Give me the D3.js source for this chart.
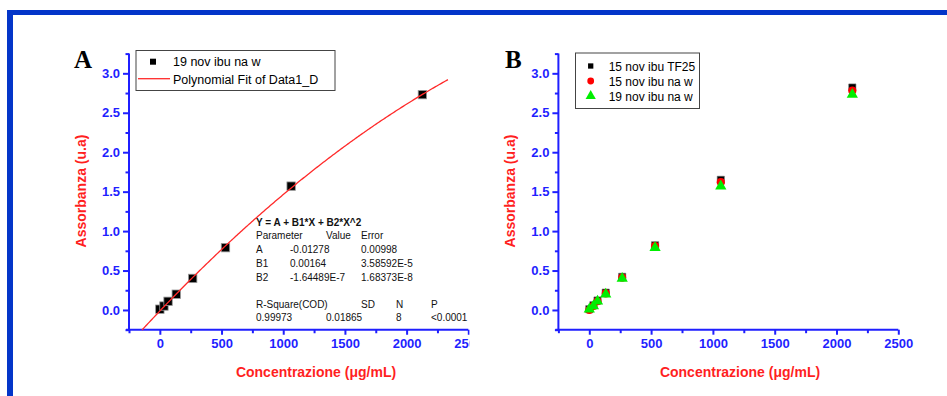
<!DOCTYPE html>
<html>
<head>
<meta charset="utf-8">
<script src="https://cdn.jsdelivr.net/npm/d3@7"></script>
<style>
  body { margin: 0; background: #fff; }
  svg { display: block; font-family: "Liberation Sans", Arial, sans-serif; }
</style>
</head>
<body>
<svg id="chart" width="947" height="396"></svg>
<script>
// Données
const conc = [0, 33.25, 66.5, 133, 266, 532, 1064, 2128];
const nov19_naw = [0.01, 0.05, 0.11, 0.20, 0.40, 0.79, 1.57, 2.73];
const nov15_tf25 = [0.01, 0.06, 0.12, 0.22, 0.42, 0.82, 1.65, 2.82];
const nov15_naw = [0.00, 0.05, 0.11, 0.21, 0.41, 0.81, 1.62, 2.78];

// Paramètres du fit polynomial (panneau A)
const fitParams = [-0.01278, 0.00164, -1.64489e-7];
const fitRange = [-145, 2340];

const xMajor = [0, 500, 1000, 1500, 2000, 2500];
const xMinor = [-250, 250, 750, 1250, 1750, 2250];
const yMajor = [0, 0.5, 1.0, 1.5, 2.0, 2.5, 3.0];
const yMinor = [-0.25, 0.25, 0.75, 1.25, 1.75, 2.25, 2.75, 3.25];

const statsRows = [
  ["Parameter", "", "Value", "Error"],
  ["A", "-0.01278", "", "0.00998"],
  ["B1", "0.00164", "", "3.58592E-5"],
  ["B2", "-1.64489E-7", "", "1.68373E-8"]
];
const statsHead = ["R-Square(COD)", "SD", "N", "P"];
const statsVals = ["0.99973", "0.01865", "8", "<0.0001"];

const legendB = ["15 nov ibu TF25", "15 nov ibu na w", "19 nov ibu na w"];

const svg = d3.select("#chart");
const blue = "#1f1fff";
const red = "#ff1f1f";

// Cadre bleu
svg.append("rect").attr("x", 7).attr("y", 10).attr("width", 940).attr("height", 5).attr("fill", "#0335c9");
svg.append("rect").attr("x", 7).attr("y", 10).attr("width", 6).attr("height", 386).attr("fill", "#0335c9");

const xDom = [-250, 2500];
const yDom = [-0.25, 3.25];

function drawAxes(g, x, y, clipRight) {
  const y0 = y(yDom[0]);
  const x0 = x(xDom[0]);

  // Axe Y : graduations mineures puis majeures
  g.append("g").attr("transform", `translate(${x0},0)`)
    .call(d3.axisLeft(y).tickValues(yMinor).tickSize(3.5).tickFormat(""))
    .call(a => a.select(".domain").remove());
  const ya = g.append("g").attr("transform", `translate(${x0},0)`)
    .call(d3.axisLeft(y).tickValues(yMajor).tickSize(6).tickPadding(3).tickFormat(d3.format(".1f")));
  ya.select(".domain").attr("d", `M0,${y(yDom[1])}V${y0 + 1}`);

  // Axe X
  const xg = g.append("g").attr("transform", `translate(0,${y0})`);
  if (clipRight) xg.attr("clip-path", "url(#clipA)");
  xg.call(d3.axisBottom(x).tickValues(xMinor).tickSize(3.5).tickFormat(""))
    .call(a => a.select(".domain").remove());
  const xa = xg.append("g")
    .call(d3.axisBottom(x).tickValues(xMajor).tickSize(5).tickPadding(4).tickFormat(d3.format("d")));
  xa.select(".domain").attr("d", `M${x0 - 3},0H${x(xDom[1])}`);

  g.selectAll(".domain, .tick line").attr("stroke", blue).attr("stroke-width", 2);
  g.selectAll(".tick text").attr("fill", blue).attr("font-weight", "bold")
    .attr("font-size", 13).attr("font-family", "Liberation Sans, Arial, sans-serif");
}

function axisLabels(g, cx, lx, ly) {
  g.append("text").attr("x", cx).attr("y", 377).attr("text-anchor", "middle")
    .attr("fill", red).attr("font-weight", "bold").attr("font-size", 14)
    .text("Concentrazione (\u03bcg/mL)");
  g.append("text").attr("transform", `translate(${lx},${ly}) rotate(-90)`)
    .attr("text-anchor", "middle").attr("fill", red).attr("font-weight", "bold").attr("font-size", 14)
    .text("Assorbanza (u.a)");
}

svg.append("defs").append("clipPath").attr("id", "clipA")
  .append("rect").attr("x", 100).attr("y", -10).attr("width", 369.5).attr("height", 40);

// ---------- Panneau A ----------
const xA = d3.scaleLinear().domain(xDom).range([129, 468.3]);
const yA = d3.scaleLinear().domain(yDom).range([329.7, 53.6]);
const gA = svg.append("g");
drawAxes(gA, xA, yA, true);
axisLabels(gA, 316, 85.5, 191);

gA.append("text").attr("x", 74).attr("y", 68).attr("font-family", "Liberation Serif, Times New Roman, serif")
  .attr("font-weight", "bold").attr("font-size", 25).text("A");

gA.selectAll("rect.pt").data(conc.map((c, i) => [c, nov19_naw[i]])).join("rect")
  .attr("class", "pt")
  .attr("x", d => xA(d[0]) - 4.2).attr("y", d => yA(d[1]) - 4.2)
  .attr("width", 8.4).attr("height", 8.4)
  .attr("fill", "#000").attr("stroke", "#999").attr("stroke-width", 0.8);

// Courbe du fit
const fitX = d3.range(fitRange[0], fitRange[1] + 1, 10);
gA.append("path")
  .datum(fitX.map(v => [v, fitParams[0] + fitParams[1] * v + fitParams[2] * v * v]))
  .attr("fill", "none").attr("stroke", "#ff2a2a").attr("stroke-width", 1.3)
  .attr("d", d3.line().x(d => xA(d[0])).y(d => yA(d[1])));

// Légende A
const legA = gA.append("g");
legA.append("rect").attr("x", 136).attr("y", 50.5).attr("width", 199).attr("height", 40)
  .attr("fill", "#fff").attr("stroke", "#444").attr("stroke-width", 1);
legA.append("rect").attr("x", 150).attr("y", 58.7).attr("width", 6).attr("height", 6).attr("fill", "#000");
legA.append("text").attr("x", 173).attr("y", 66).attr("font-size", 12.5).text("19 nov ibu na w");
legA.append("line").attr("x1", 138).attr("x2", 170).attr("y1", 78.7).attr("y2", 78.7)
  .attr("stroke", "#ff2a2a").attr("stroke-width", 1.3);
legA.append("text").attr("x", 173).attr("y", 83.5).attr("font-size", 12.5).text("Polynomial Fit of Data1_D");

// Tableau de résultats du fit
const stats = gA.append("g").attr("font-size", 10).attr("fill", "#111");
stats.append("text").attr("x", 256).attr("y", 225.5).attr("font-weight", "bold")
  .text("Y = A + B1*X + B2*X^2");
const colX = [256, 290, 326, 361];
statsRows.forEach((row, r) => {
  row.forEach((t, c) => {
    if (t) stats.append("text").attr("x", colX[c]).attr("y", 238.5 + r * 14).text(t);
  });
});
const colX2 = [256, 361, 396, 431];
statsHead.forEach((t, c) => stats.append("text").attr("x", colX2[c]).attr("y", 307.5).text(t));
const colX3 = [256, 326, 396, 431];
statsVals.forEach((t, c) => stats.append("text").attr("x", colX3[c]).attr("y", 320.5).text(t));

// ---------- Panneau B ----------
const xB = d3.scaleLinear().domain(xDom).range([558.4, 898.3]);
const yB = d3.scaleLinear().domain(yDom).range([329.7, 53.6]);
const gB = svg.append("g");
drawAxes(gB, xB, yB, false);
axisLabels(gB, 740, 515, 191);

gB.append("text").attr("x", 505).attr("y", 68).attr("font-family", "Liberation Serif, Times New Roman, serif")
  .attr("font-weight", "bold").attr("font-size", 25).text("B");

const sq = d3.symbol().type(d3.symbolSquare);
const ci = d3.symbol().type(d3.symbolCircle);
const tri = d3.symbol().type(d3.symbolTriangle);

const seriesB = [
  { vals: nov15_tf25, sym: sq.size(52), fill: "#000", stroke: "#777" },
  { vals: nov15_naw, sym: ci.size(52), fill: "#ff0000", stroke: "none" },
  { vals: nov19_naw, sym: tri.size(55), fill: "#00ee00", stroke: "none" }
];
seriesB.forEach(s => {
  gB.append("g").selectAll("path").data(conc.map((c, i) => [c, s.vals[i]])).join("path")
    .attr("d", s.sym)
    .attr("transform", d => `translate(${xB(d[0])},${yB(d[1])})`)
    .attr("fill", s.fill).attr("stroke", s.stroke).attr("stroke-width", 0.6);
});

// Légende B
const legB = gB.append("g");
legB.append("rect").attr("x", 575.5).attr("y", 53).attr("width", 124).attr("height", 55.5)
  .attr("fill", "#fff").attr("stroke", "#444").attr("stroke-width", 1);
const legSyms = [sq.size(28), ci.size(36), tri.size(45)];
legendB.forEach((t, i) => {
  const cy = 66 + i * 15;
  legB.append("path").attr("d", legSyms[i]).attr("transform", `translate(590.7,${cy})`)
    .attr("fill", seriesB[i].fill);
  legB.append("text").attr("x", 608.7).attr("y", cy + 4.5).attr("font-size", 12).text(t);
});
</script>
</body>
</html>
